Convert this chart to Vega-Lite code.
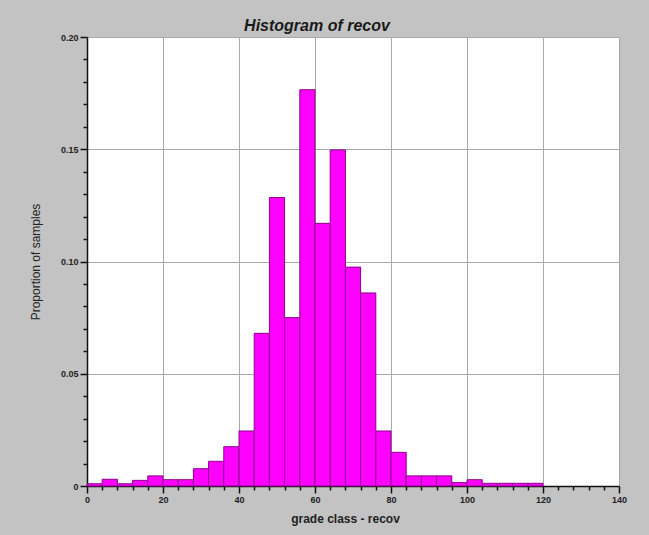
{
  "$schema": "https://vega.github.io/schema/vega-lite/v6.json",
  "width": 532,
  "height": 449,
  "autosize": {"type": "none"},
  "padding": {"left": 87, "top": 37, "right": 30, "bottom": 49},
  "background": "#c2c3c2",
  "title": {
    "text": "Histogram of recov",
    "font": "Liberation Sans",
    "fontSize": 16,
    "fontWeight": "bold",
    "fontStyle": "italic",
    "color": "#1a1a1a",
    "anchor": "middle",
    "offset": -1,
    "dx": -36
  },
  "data": {
    "values": [
      {"bin_start": 0, "bin_end": 4, "proportion": 0.001},
      {"bin_start": 4, "bin_end": 8, "proportion": 0.003},
      {"bin_start": 8, "bin_end": 12, "proportion": 0.001},
      {"bin_start": 12, "bin_end": 16, "proportion": 0.0025},
      {"bin_start": 16, "bin_end": 20, "proportion": 0.0045},
      {"bin_start": 20, "bin_end": 24, "proportion": 0.0028},
      {"bin_start": 24, "bin_end": 28, "proportion": 0.0028},
      {"bin_start": 28, "bin_end": 32, "proportion": 0.0077},
      {"bin_start": 32, "bin_end": 36, "proportion": 0.011},
      {"bin_start": 36, "bin_end": 40, "proportion": 0.0175},
      {"bin_start": 40, "bin_end": 44, "proportion": 0.0245},
      {"bin_start": 44, "bin_end": 48, "proportion": 0.068},
      {"bin_start": 48, "bin_end": 52, "proportion": 0.1285},
      {"bin_start": 52, "bin_end": 56, "proportion": 0.075},
      {"bin_start": 56, "bin_end": 60, "proportion": 0.1765},
      {"bin_start": 60, "bin_end": 64, "proportion": 0.117},
      {"bin_start": 64, "bin_end": 68, "proportion": 0.1497},
      {"bin_start": 68, "bin_end": 72, "proportion": 0.0975},
      {"bin_start": 72, "bin_end": 76, "proportion": 0.086},
      {"bin_start": 76, "bin_end": 80, "proportion": 0.0245},
      {"bin_start": 80, "bin_end": 84, "proportion": 0.015},
      {"bin_start": 84, "bin_end": 88, "proportion": 0.0045},
      {"bin_start": 88, "bin_end": 92, "proportion": 0.0045},
      {"bin_start": 92, "bin_end": 96, "proportion": 0.0045},
      {"bin_start": 96, "bin_end": 100, "proportion": 0.0015},
      {"bin_start": 100, "bin_end": 104, "proportion": 0.0028},
      {"bin_start": 104, "bin_end": 108, "proportion": 0.0012},
      {"bin_start": 108, "bin_end": 112, "proportion": 0.0012},
      {"bin_start": 112, "bin_end": 116, "proportion": 0.0012},
      {"bin_start": 116, "bin_end": 120, "proportion": 0.0012}
    ]
  },
  "mark": {"type": "rect", "fill": "#ff00ff", "stroke": "#8b008b", "strokeWidth": 1},
  "encoding": {
    "x": {
      "field": "bin_start",
      "type": "quantitative",
      "scale": {"domain": [0, 140], "nice": false},
      "axis": {
        "title": "grade class - recov",
        "values": [0,4,8,12,16,20,24,28,32,36,40,44,48,52,56,60,64,68,72,76,80,84,88,92,96,100,104,108,112,116,120,124,128,132,136,140],
        "labelExpr": "datum.value % 20 == 0 ? datum.label : ''",
        "gridOpacity": {"condition": {"test": "datum.value % 20 == 0", "value": 1}, "value": 0},
        "tickSize": {"condition": {"test": "datum.value % 20 == 0", "value": 7}, "value": 4},
        "titlePadding": 9,
        "titleFontSize": 12,
        "titleX": 258
      }
    },
    "x2": {"field": "bin_end"},
    "y": {
      "field": "proportion",
      "type": "quantitative",
      "scale": {"domain": [0, 0.2], "nice": false},
      "axis": {
        "title": "Proportion of samples",
        "values": [0,0.01,0.02,0.03,0.04,0.05,0.06,0.07,0.08,0.09,0.1,0.11,0.12,0.13,0.14,0.15,0.16,0.17,0.18,0.19,0.2],
        "labelExpr": "round(datum.value*100) % 5 == 0 ? (datum.value == 0 ? '0' : format(datum.value, '.2f')) : ''",
        "gridOpacity": {"condition": {"test": "round(datum.value*100) % 5 == 0", "value": 1}, "value": 0},
        "tickSize": {"condition": {"test": "round(datum.value*100) % 5 == 0", "value": 7}, "value": 4},
        "titlePadding": 18,
        "titleFontWeight": "normal",
        "titleFontSize": 12
      }
    },
    "y2": {"datum": 0}
  },
  "config": {
    "view": {"fill": "#ffffff", "stroke": null},
    "axis": {
      "domainColor": "#111111",
      "domainWidth": 1.5,
      "tickColor": "#111111",
      "tickWidth": 1.5,
      "gridColor": "#a8a8a8",
      "gridWidth": 1,
      "labelFont": "Liberation Sans",
      "labelFontSize": 9,
      "labelFontWeight": "bold",
      "labelColor": "#222222",
      "labelPadding": 2,
      "labelFlush": false,
      "titleFont": "Liberation Sans",
      "titleFontSize": 10,
      "titleFontWeight": "bold",
      "titleColor": "#222222",
      "labelOverlap": false
    }
  }
}
